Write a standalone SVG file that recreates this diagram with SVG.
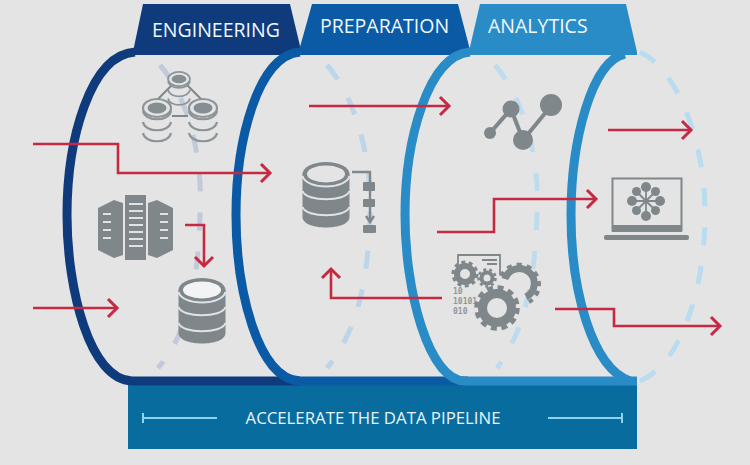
<svg xmlns="http://www.w3.org/2000/svg" xmlns:xlink="http://www.w3.org/1999/xlink" width="750" height="465" viewBox="0 0 750 465">
<style>
.ring{fill:none;stroke-width:9;stroke-linecap:butt}
.dash{fill:none;stroke-width:5;stroke-dasharray:18 21}
.red{fill:none;stroke:#c62a43;stroke-width:2.6;marker-end:url(#ah)}
.tab{font-family:"Open Sans","Liberation Sans",sans-serif;fill:#f2f8fc;font-size:19.5px}
.g{fill:#7f878b}
.gl{fill:none;stroke:#7f878b}
.lt{stroke:#dfe3e5;stroke-width:2;fill:none}
.bin{font-family:"DejaVu Sans Mono","Liberation Mono",monospace;font-weight:bold;font-size:8px;fill:#8f969a}
</style>
<defs>
<marker id="ah" markerUnits="userSpaceOnUse" markerWidth="20" markerHeight="24" refX="14" refY="10" orient="auto" viewBox="0 0 20 20">
<path d="M5 1 L14 10 L5 19" fill="none" stroke="#c62a43" stroke-width="3"/>
</marker>
<g id="db">
<path class="g" d="M-23.500,0 V43 C-23.500,57 23.500,57 23.500,43 V0Z"/>
<ellipse cx="0" cy="0" rx="23.500" ry="12" fill="#7f878b"/>
<path class="lt" stroke-width="2.400" d="M-23.500,2 C-20,16 20,16 23.500,2 M-23.500,17 C-20,28 20,28 23.500,17 M-23.500,33 C-20,44 20,44 23.500,33"/>
</g>
<g id="mini">
<ellipse cx="0" cy="0" rx="14" ry="9" fill="#e4e4e4" stroke="#8c9498" stroke-width="2.200"/>
<ellipse cx="0" cy="0" rx="9.500" ry="5.500" fill="#868e92"/>
<path d="M-14,3 C-12,14 12,14 14,3 M-14,14 C-12,25 12,25 14,14 M-14,25 C-12,36 12,36 14,25" fill="none" stroke="#8c9498" stroke-width="2.200"/>
</g>
</defs>
<rect id="background" width="750" height="465" fill="#e4e4e4"/>
<g id="dashes">
<path class="dash" stroke="#c2c9da" d="M160,65 C190,100 203,160 200,215 C198,280 190,330 158,368"/>
<path class="dash" stroke="#bdd5e8" d="M327,65 C357,100 372,160 370,215 C368,280 358,330 327,368"/>
<path class="dash" stroke="#bfdcee" d="M495,65 C525,100 540,160 537,215 C535,280 525,330 497,368"/>
<path class="dash" stroke="#b9dcf0" d="M640,52 C680,70 706,150 705,215 C705,290 680,365 640,381"/>
</g>
<g id="footer">
<rect x="128" y="385" width="509" height="64" fill="#086d9e"/>
<path d="M143,418 H217 M143,413 V423 M548,418 H622 M622,413 V423" stroke="#8fd4ec" stroke-width="2" fill="none"/>
<text x="373" y="424" text-anchor="middle" font-family="'Open Sans','Liberation Sans',sans-serif" font-size="16.800" fill="#e8f4fa">ACCELERATE THE DATA PIPELINE</text>
</g>
<g id="engineering">
<path class="ring" stroke="#0f3b7c" d="M135,52 C90,55 67,140 67,215 C67,290 90,380 132,381 H300"/>
<polygon points="143,4 290,4 300,46 302,55 134,55 134,47" fill="#0f3b7c"/>
<text class="tab" x="152" y="37">ENGINEERING</text>
</g>
<g id="preparation">
<path class="ring" stroke="#0a5aa6" d="M300,52 C258,55 236,140 236,215 C236,290 258,380 300,381 H468"/>
<polygon points="312,4 458,4 469,46 469,55 290,55 300,47" fill="#0a5aa6"/>
<text class="tab" x="320" y="33">PREPARATION</text>
</g>
<g id="analytics">
<path class="ring" stroke="#2a8cc6" d="M470,52 C428,55 405,140 405,215 C405,290 428,380 465,381 H637"/>
<polygon points="480,4 626,4 637,52 637,55 455,55 470,47" fill="#2a8cc6"/>
<path class="ring" stroke="#2a8cc6" d="M625,54 C592,60 571,140 571,215 C571,290 592,368 630,381"/>
<text class="tab" x="488" y="33">ANALYTICS</text>
</g>
<g id="icon-cluster">
<path class="gl" stroke-width="2" d="M155,102 L172,85 M187,85 L204,102 M172,116 H188"/>
<use xlink:href="#mini" href="#mini" transform="translate(179,79) scale(.78)"/>
<use xlink:href="#mini" href="#mini" x="157" y="108"/>
<use xlink:href="#mini" href="#mini" x="203" y="108"/>
</g>
<g id="icon-servers">
<path class="g" d="M98,208 L114,200 L123,203 V255 L114,258 L98,250Z"/>
<rect class="g" x="125" y="195" width="21" height="65"/>
<path class="g" d="M148,203 L157,200 L173,208 V250 L157,258 L148,255Z"/>
<path class="lt" d="M129,204 H143 M129,211 H143 M129,218 H143 M129,225 H143 M129,232 H143 M129,239 H143 M129,246 H143 M103,214 H111 M103,222 H111 M103,230 H111 M103,238 H111 M160,214 H168 M160,222 H168 M160,230 H168 M160,238 H168"/>
</g>
<g id="icon-db-engineering">
<use xlink:href="#db" href="#db" x="202" y="290"/>
<ellipse cx="202" cy="290" rx="19" ry="8.500" fill="#f2f3f4"/>
</g>
<g id="icon-db-preparation">
<use xlink:href="#db" href="#db" x="326" y="174"/>
<ellipse cx="326" cy="174" rx="19" ry="8.500" fill="#e4e4e4"/>
</g>
<g id="icon-flow">
<path class="gl" stroke-width="2.400" d="M352,172 H370 V221 M366,216 L370,222 L374,216"/>
<rect class="g" x="363" y="182" width="12" height="9" rx="1"/>
<rect class="g" x="363" y="199" width="12" height="8" rx="1"/>
<rect class="g" x="363" y="225" width="13" height="8" rx="1"/>
</g>
<g id="icon-chart">
<path class="gl" stroke-width="4" d="M490,133 L511,109 L523,140 L551,106"/>
<circle class="g" cx="490" cy="133" r="6"/>
<circle class="g" cx="511" cy="109" r="8.500"/>
<circle class="g" cx="523" cy="140" r="10"/>
<circle class="g" cx="551" cy="105" r="11"/>
</g>
<g id="icon-laptop">
<rect x="612.500" y="178.500" width="69" height="52" fill="none" stroke="#7f878b" stroke-width="2"/>
<rect class="g" x="612" y="225" width="70" height="7"/>
<rect class="g" x="604" y="235" width="85" height="5" rx="2"/>
<path class="gl" stroke-width="1.800" d="M646,201 L646,186 M646,201 L646,216 M646,201 L631,201 M646,201 L661,201 M646,201 L636,191 M646,201 L656,191 M646,201 L636,211 M646,201 L656,211"/>
<g class="g"><circle cx="646" cy="187" r="5"/><circle cx="646" cy="216" r="5"/><circle cx="632" cy="201" r="5"/><circle cx="660" cy="201" r="5"/><circle cx="636.500" cy="191.500" r="4.500"/><circle cx="655.500" cy="191.500" r="4.500"/><circle cx="636.500" cy="210.500" r="4.500"/><circle cx="655.500" cy="210.500" r="4.500"/></g>
</g>
<g id="icon-gears">
<path class="gl" stroke-width="1.800" d="M458,268 V255 H500 V275"/>
<path class="gl" stroke-width="1.800" d="M482,260 H497 M487,264 H497"/>
<circle cx="465" cy="274" r="8" class="gl" stroke-width="6"/>
<circle cx="465" cy="274" r="12" class="gl" stroke-width="3" stroke-dasharray="4 3.500"/>
<circle cx="487" cy="278" r="5.500" class="gl" stroke-width="4"/>
<circle cx="487" cy="278" r="8.500" class="gl" stroke-width="2.500" stroke-dasharray="3 3"/>
<path class="gl" stroke-width="7" d="M505,279 A15,15 0 1 1 526,297"/>
<path class="gl" stroke-width="4" stroke-dasharray="5 5" d="M501,276 A20,20 0 1 1 529,302"/>
<text class="bin" x="453" y="294">10</text>
<text class="bin" x="453" y="304">10101</text>
<text class="bin" x="453" y="314">010</text>
<circle cx="497" cy="308" r="14.500" fill="none" stroke="#7f878b" stroke-width="9"/>
<circle cx="497" cy="308" r="20.500" fill="none" stroke="#7f878b" stroke-width="4.500" stroke-dasharray="6 4.730"/>
</g>
<g id="connectors">
<path class="red" d="M33,144 H118 V173 H270"/>
<path class="red" d="M33,308 H117"/>
<path class="red" d="M185,225 H204 V266"/>
<path class="red" d="M309,106 H449"/>
<path class="red" d="M442,298 H331 V269"/>
<path class="red" d="M437,232 H494 V199 H596"/>
<path class="red" d="M608,130 H691"/>
<path class="red" d="M555,309 H614 V326 H720"/>
</g>
</svg>
